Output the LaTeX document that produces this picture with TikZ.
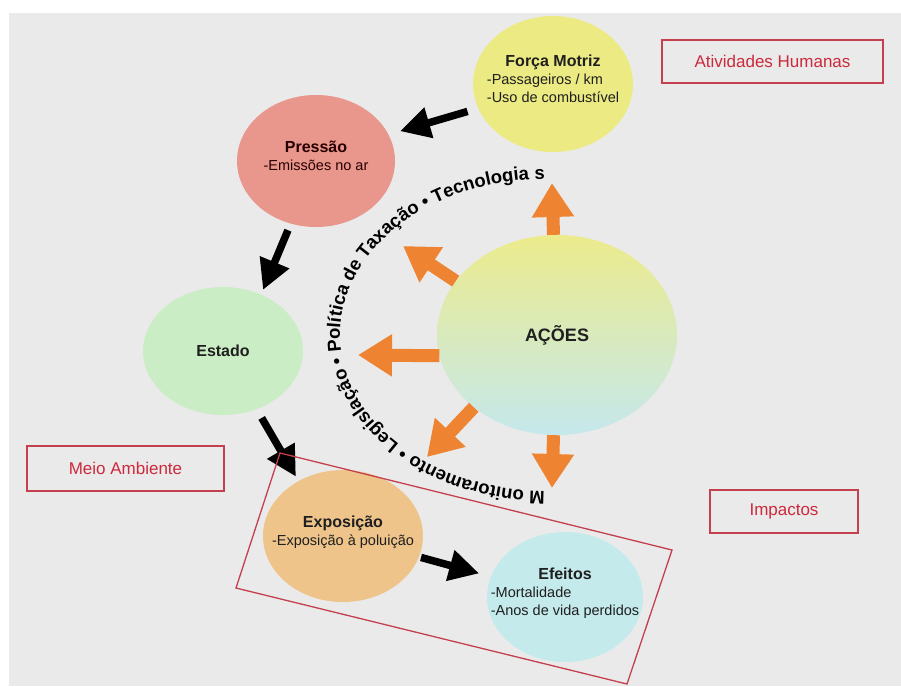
\documentclass[tikz,border=0pt]{standalone}
\usepackage{fontspec}
\setmainfont{Liberation Sans}
\usetikzlibrary{shapes.geometric,arrows.meta,decorations.text}
\definecolor{bg}{HTML}{EAEAEA}
\definecolor{fyel}{HTML}{ECEA82}
\definecolor{pres}{HTML}{E9968C}
\definecolor{est}{HTML}{CBEDC5}
\definecolor{expo}{HTML}{EEC48A}
\definecolor{efe}{HTML}{C5EAEC}
\definecolor{acTop}{HTML}{ECEB8C}
\definecolor{acBot}{HTML}{C5E8EC}
\definecolor{orng}{HTML}{EE8432}
\definecolor{boxred}{HTML}{C4404E}
\definecolor{labred}{HTML}{CC2A3C}
\newcommand\arcfont{\fontsize{18.5}{18.5}\selectfont\bfseries}
\newcommand\ttlfont{\fontsize{16}{18}\selectfont\bfseries}
\newcommand\bubtext[1]{\makebox[0pt]{\smash{\begin{tabular}{@{}l@{}}#1\end{tabular}}}}
\newcommand\bubttl[1]{\multicolumn{1}{@{}c@{}}{\ttlfont #1}}
\begin{document}
\begin{tikzpicture}[x=1pt,y=-1pt,
  bubble/.style={ellipse, inner sep=0pt, draw=none, text=black!88,
    font=\fontsize{14.5}{18}\selectfont},
  redbox/.style={draw=boxred, line width=1.5pt, text=labred, inner sep=0pt,
    font=\fontsize{17}{20}\selectfont},
  blk/.style={draw=black, line width=7.5pt, -{Triangle[length=30pt,width=30pt]}},
  org/.style={draw=orng, line width=13pt, -{Triangle[length=34pt,width=40pt]}}]
\useasboundingbox (0,0) rectangle (901,686);
\fill[white] (0,0) rectangle (901,686);
\fill[bg] (9,13) rectangle (901,686);

% bubbles
\node[bubble, fill=fyel, minimum width=160pt, minimum height=136pt] (F) at (553,84)
  {\bubtext{\bubttl{Força Motriz}\\-Passageiros / km\\-Uso de combustível}};
\node[bubble, fill=pres, text=black!75!red!60!black, minimum width=158pt, minimum height=132pt] (P) at (316,161)
  {\bubtext{\bubttl{Pressão}\\-Emissões no ar}};
\node[bubble, fill=est, minimum width=160pt, minimum height=128pt] (E) at (223,351)
  {\ttlfont Estado};
\node[bubble, top color=acTop, bottom color=acBot, middle color=acTop!50!acBot,
  minimum width=240pt, minimum height=200pt, font=\fontsize{18}{20}\selectfont\bfseries] (A) at (557,335)
  {AÇÕES};
\node[bubble, fill=expo, minimum width=160pt, minimum height=132pt] (X) at (343,536)
  {\bubtext{\bubttl{Exposição}\\-Exposição à poluição}};
\node[bubble, fill=efe, minimum width=156pt, minimum height=130pt] (Ef) at (565,597)
  {\bubtext{\bubttl{Efeitos}\\-Mortalidade\\-Anos de vida perdidos}};

% labels
\node[redbox, minimum width=221pt, minimum height=43pt] (AH) at (772.5,61.5) {Atividades Humanas};
\node[redbox, minimum width=197pt, minimum height=45pt] (MA) at (125.5,468.5) {Meio Ambiente};
\node[redbox, minimum width=148pt, minimum height=43pt] (IM) at (784,511.5) {Impactos};

% black arrows
\draw[blk, shorten <=11pt, shorten >=12pt] (F.198) -- (P.20);
\draw[blk, shorten <=7pt, shorten >=5pt] (P.248) -- (E.56);
\draw[blk, shorten <=10pt, shorten >=5pt] (E.300) -- (X.129);
\draw[blk, shorten <=2pt, shorten >=12pt] (X) -- (Ef);

% orange arrows
\coordinate (t1) at (552,183);
\coordinate (t2) at (403,246);
\coordinate (t3) at (358,355);
\coordinate (t4) at (427,457);
\coordinate (t5) at (552,488);
\draw[org] (A.92) -- (t1);
\draw[org] (A.152) -- (t2);
\draw[org] (A.190) -- (t3);
\draw[org] (A.221) -- (t4);
\draw[org] (A.268) -- (t5);

% curved text
\path[decorate, decoration={text along path, text format delimiters={|}{|},
  text={|\arcfont|M onitoramento • Legislação • Política de Taxação • Tecnologia s},
  text align=center}]
  (545,335) ++(86:205 and 156) arc[start angle=86, end angle=274, x radius=205, y radius=156];

% tilted frame
\draw[boxred, line width=1.3pt] (280,453) -- (672,550) -- (627,684) -- (236,588) -- cycle;
\end{tikzpicture}
\end{document}
